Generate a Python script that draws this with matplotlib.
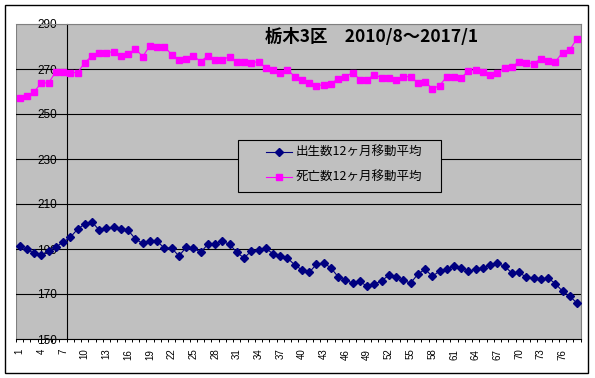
import matplotlib
matplotlib.use("Agg")
import matplotlib.pyplot as plt
from matplotlib.patches import Rectangle
from matplotlib.lines import Line2D

# month index 1..78 (2010/8 - 2017/1)
months = list(range(1, 79))

# 12-month moving averages
births = [191.3, 189.9, 188.1, 187.2, 189.0, 190.9, 193.0, 195.2, 198.8, 201.1,
          202.0, 198.4, 199.2, 199.6, 198.9, 198.3, 194.4, 192.5, 193.4, 193.4,
          190.4, 190.4, 186.9, 190.7, 190.4, 188.5, 192.1, 192.1, 193.4, 192.1,
          188.5, 186.0, 189.1, 189.4, 190.4, 187.8, 186.8, 186.0, 182.9, 180.7,
          179.6, 183.2, 183.8, 181.6, 177.6, 176.1, 174.9, 175.6, 173.4, 174.3,
          175.9, 178.3, 177.4, 176.1, 174.8, 178.8, 181.0, 177.9, 180.1, 181.0,
          182.4, 181.6, 180.1, 181.0, 181.6, 182.8, 183.6, 182.3, 179.3, 179.6,
          177.4, 177.0, 176.5, 177.1, 174.6, 171.2, 169.0, 165.9]
deaths = [257.3, 258.0, 259.9, 263.8, 263.8, 268.8, 268.8, 268.4, 268.4, 272.8,
          275.9, 277.3, 277.3, 277.7, 275.9, 276.5, 279.0, 275.5, 280.4, 279.9,
          279.9, 276.4, 274.1, 274.6, 275.9, 273.3, 275.9, 274.1, 274.1, 275.5,
          273.3, 273.3, 272.8, 273.3, 270.6, 269.7, 268.4, 269.7, 266.6, 265.0,
          263.9, 262.6, 263.0, 263.5, 265.7, 266.6, 268.4, 265.3, 265.3, 267.5,
          266.1, 266.1, 265.3, 266.6, 266.6, 263.9, 264.4, 261.2, 262.6, 266.6,
          266.6, 266.1, 269.2, 269.7, 268.8, 267.5, 268.4, 270.6, 271.0, 273.3,
          272.8, 272.4, 274.6, 273.7, 273.3, 277.3, 278.6, 283.5]

x_ticks = list(range(1, 79, 3))
y_ticks = [150, 170, 190, 210, 230, 250, 270, 290]
title = "栃木3区　2010/8～2017/1"
label_births = "出生数12ヶ月移動平均"
label_deaths = "死亡数12ヶ月移動平均"

cjk = ["Noto Sans CJK JP", "DejaVu Sans"]
W, H = 595, 378

fig = plt.figure(figsize=(W / 100, H / 100), dpi=100)
fig.patch.set_facecolor("white")

# plot area in pixel terms
left, top, right, bottom = 16, 24, 580.7, 339
ax = fig.add_axes([left / W, 1 - bottom / H, (right - left) / W, (bottom - top) / H])
ax.set_facecolor("#C0C0C0")

for v in y_ticks[1:-1]:
    ax.axhline(v, color="black", lw=0.8, zorder=1)

ax.plot(months, births, color="#000080", lw=0.8, marker="D", ms=4.0,
        zorder=3, clip_on=False)
ax.plot(months, deaths, color="#FF00FF", lw=0.8, marker="s", ms=4.6,
        zorder=3, clip_on=False)

ax.set_xlim(0.5, 78.5)
ax.set_ylim(150, 290)

# y axis crosses between category 7 and 8
ax.spines["left"].set_position(("data", 7.5))
ax.spines["left"].set_color("black")
ax.spines["left"].set_linewidth(0.8)
ax.spines["bottom"].set_color("black")
ax.spines["bottom"].set_linewidth(0.8)
for s in ["top", "right"]:
    ax.spines[s].set_color("#808080")
    ax.spines[s].set_linewidth(0.8)
ax.add_patch(Rectangle((0, 0), 1, 1, transform=ax.transAxes, fill=False,
                       edgecolor="#808080", lw=0.8, zorder=0.5))

ax.set_yticks(y_ticks)
ax.set_yticklabels([str(v) for v in y_ticks], fontsize=8.5, family="Liberation Sans")
ax.tick_params(axis="y", length=0, pad=7)

ax.set_xticks(x_ticks)
ax.set_xticklabels([str(v) for v in x_ticks], rotation=90, fontsize=7,
                   family="Liberation Sans")
ax.set_xticks([i + 0.5 for i in range(0, 79)], minor=True)
ax.tick_params(axis="x", which="major", length=0, pad=7)
ax.tick_params(axis="x", which="minor", length=2.5, width=0.7, direction="out")

# title
fig.text(372 / W, 1 - 37 / H, title, ha="center", va="center", fontsize=12.5,
         fontweight="bold", family=cjk)

# legend drawn by hand
lx0, ly0, lx1, ly1 = 238, 140, 441, 192
fig.add_artist(Rectangle((lx0 / W, 1 - ly1 / H), (lx1 - lx0) / W, (ly1 - ly0) / H,
                         transform=fig.transFigure, facecolor="#C0C0C0",
                         edgecolor="black", lw=0.8, zorder=5))
rows = [(152, label_births, "#000080", "D", 4.0), (177, label_deaths, "#FF00FF", "s", 4.6)]
for yy, lab, col, mk, ms in rows:
    yf = 1 - yy / H
    fig.add_artist(Line2D([266 / W, 292 / W], [yf, yf], transform=fig.transFigure,
                          color=col, lw=0.8, zorder=6))
    fig.add_artist(Line2D([279 / W], [yf], transform=fig.transFigure, color=col,
                          marker=mk, ms=ms, zorder=6))
    fig.text(296 / W, yf, lab, ha="left", va="center", fontsize=9, family=cjk, zorder=6)

# outer chart border
fig.add_artist(Rectangle((5 / W, 1 - 373 / H), (588 - 5) / W, (373 - 5) / H,
                         transform=fig.transFigure, fill=False, edgecolor="black",
                         lw=1, zorder=10))

fig.savefig("out.png", dpi=100)
